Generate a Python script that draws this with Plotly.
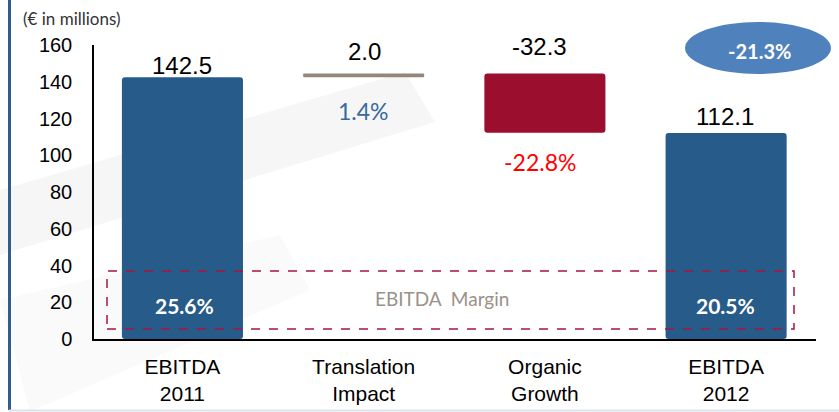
import plotly.graph_objects as go

# Data (EUR millions)
categories = ["EBITDA<br>2011", "Translation<br>Impact", "Organic<br>Growth", "EBITDA<br>2012"]
changes = [142.5, 2.0, -32.3, 112.1]
kinds = ["total", "delta", "delta", "total"]
value_labels = ["142.5", "2.0", "-32.3", "112.1"]
change_pct = ["", "1.4%", "-22.8%", ""]
margin_pct = ["25.6%", "", "", "20.5%"]
total_change = "-21.3%"
y_ticks = [0, 20, 40, 60, 80, 100, 120, 140, 160]

COLORS = {
    'total': '#265B8A',
    'up': '#948779',
    'down': '#9B0E2E',
    'pct_up': '#3669A0',
    'pct_down': '#FF0000',
    'margin_box': '#A8163C',
    'margin_text': '#9B918A',
    'oval': '#4F81BD',
    'frame': '#2E5E8E',
}

# waterfall bases/heights
bases, heights, colors, tops, bottoms = [], [], [], [], []
running = 0.0
for v, k in zip(changes, kinds):
    if k == "total":
        b, h = 0.0, v
        running = v
        c = COLORS['total']
    else:
        b, h = min(running, running + v), abs(v)
        c = COLORS['up'] if v >= 0 else COLORS['down']
        running += v
    bases.append(b)
    heights.append(h)
    colors.append(c)
    tops.append(b + h)
    bottoms.append(b)

xs = list(range(len(categories)))

fig = go.Figure(go.Bar(
    x=xs, y=heights, base=bases,
    width=0.668,
    marker=dict(color=colors, line=dict(width=0), cornerradius=3),
    hoverinfo='skip',
))

# layout geometry helpers (pixel -> paper)
L, R, T, B = 94, 23, 45, 73
W, H = 839 - L - R, 412 - T - B


def px(x):
    return (x - L) / W


def py(y):
    return (412 - B - y) / H


ann = []
# value labels above bars
label_shift = [12, 22, 27, 17]
for i, t in enumerate(value_labels):
    ann.append(dict(x=xs[i], y=tops[i], text=t, showarrow=False, xanchor='center', yanchor='middle',
                    yshift=label_shift[i], xshift=[0, 1, -5, -1][i],
                    font=dict(family="Liberation Sans, Arial", size=24, color='black')))
# change percentages below delta bars
pct_shift = [0, -34, -29, 0]
for i, t in enumerate(change_pct):
    if not t:
        continue
    col = COLORS['pct_up'] if changes[i] >= 0 else COLORS['pct_down']
    ann.append(dict(x=xs[i], y=bottoms[i], text=t, showarrow=False, xanchor='center', yanchor='middle',
                    yshift=pct_shift[i], xshift=[0, 0, -5, 0][i],
                    font=dict(family="Lato, sans-serif", size=23, color=col)))
# margin percentages inside total bars
for i, t in enumerate(margin_pct):
    if not t:
        continue
    ann.append(dict(x=xs[i], y=18, text="<b>%s</b>" % t, showarrow=False, xanchor='center', yanchor='middle',
                    xshift=2 if i == 0 else -1,
                    font=dict(family="Lato, sans-serif", size=21, color='white')))

ann.append(dict(xref='paper', yref='paper', x=px(442), y=py(298), text="EBITDA  Margin",
                xanchor='center', yanchor='middle',
                showarrow=False, font=dict(family="Lato, sans-serif", size=19, color=COLORS['margin_text'])))
ann.append(dict(xref='paper', yref='paper', x=px(759), y=py(51), text="<b>%s</b>" % total_change,
                xanchor='center', yanchor='middle',
                showarrow=False, font=dict(family="Lato, sans-serif", size=20, color='white')))
ann.append(dict(xref='paper', yref='paper', x=px(21), y=py(18), xanchor='left', yanchor='middle',
                text="(€ in millions)",
                showarrow=False, font=dict(family="Lato, sans-serif", size=17, color='#333333')))

shapes = [
    # faint watermark swooshes
    dict(type='path', xref='paper', yref='paper', layer='below', line=dict(width=0),
         fillcolor='rgba(0,0,0,0.035)',
         path="M %f %f L %f %f L %f %f L %f %f Z" % (px(0), py(190), px(405), py(72), px(435), py(122), px(0), py(255))),
    dict(type='path', xref='paper', yref='paper', layer='below', line=dict(width=0),
         fillcolor='rgba(0,0,0,0.02)',
         path="M %f %f L %f %f L %f %f L %f %f Z" % (px(0), py(300), px(280), py(235), px(310), py(290), px(30), py(412))),
    # total change oval
    dict(type='circle', xref='paper', yref='paper', x0=px(685), x1=px(831), y0=py(74), y1=py(22),
         fillcolor=COLORS['oval'], line=dict(width=0), layer='below'),
    # margin box
    dict(type='rect', xref='paper', yref='paper', x0=px(107), x1=px(794), y0=py(329), y1=py(271),
         line=dict(color=COLORS['margin_box'], width=1.5, dash='dash')),
    # slide frame
    dict(type='line', xref='paper', yref='paper', x0=px(9.5), x1=px(9.5), y0=py(0), y1=py(410),
         line=dict(color=COLORS['frame'], width=3)),
    dict(type='line', xref='paper', yref='paper', x0=px(9), x1=px(839), y0=py(410.5), y1=py(410.5),
         line=dict(color='#DCE3EB', width=2)),
]

fig.update_layout(
    width=839, height=412,
    margin=dict(l=L, r=R, t=T, b=B),
    paper_bgcolor='white', plot_bgcolor='rgba(0,0,0,0)',
    showlegend=False,
    annotations=ann,
    shapes=shapes,
    xaxis=dict(range=[-0.488, 3.496], tickvals=xs, ticktext=categories,
               showgrid=False, zeroline=False, showline=True, linecolor='black', linewidth=1.5,
               ticks='', ticklabelstandoff=8, automargin=False,
               tickfont=dict(family="Liberation Sans, Arial", size=21, color='black'),
               fixedrange=True),
    yaxis=dict(range=[0, 160], tickvals=y_ticks, showgrid=False, zeroline=False,
               showline=True, linecolor='black', linewidth=1.5, ticks='', ticklabelstandoff=16,
               automargin=False,
               tickfont=dict(family="Liberation Sans, Arial", size=20, color='black'),
               fixedrange=True),
)

fig.write_html("out.html", config={'displayModeBar': False},
               post_script="document.body.style.margin='0';")
